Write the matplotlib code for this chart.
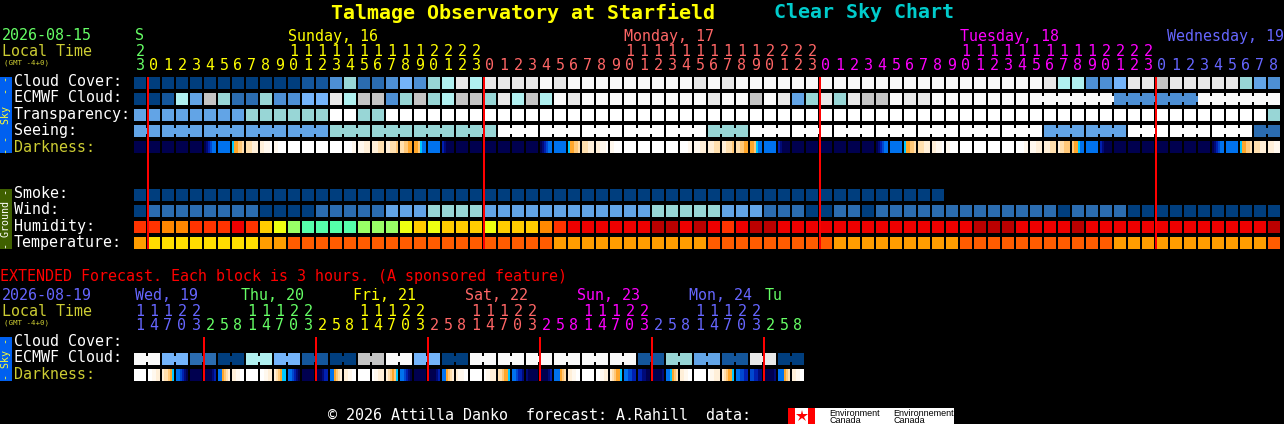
import matplotlib
matplotlib.use("Agg")
import matplotlib.pyplot as plt

OUTPUT_IMAGE = "out.png"

# --- main grid: one letter per hourly block ---
CLOUD = "aaaaaaaaaa aabbdgccdf dghjhjjjjk jkkkkkkkkk jkjkkkkkkk kkkkkkkkkk kkkkkjhhdd fjjijjjjjg ed"
ECMWF = "aabheigccg ddffjhiidg ighiigjhih kjkkkkkkkk kjkkikjegj gjiikjjkkk kkkkkkkkkk ddddddkkkk kk"
TRANSP = "eeeeeeeegg ggggwwggww wwwwwwwwww wwwwwwwwww wwwwwwwwww wwwwwwwwww wwwwwwwwww wwwwwwwwww wg"
SEEING = "eeeeeeeeee eeeegggggg ggggggwwww wwwwwwwwww wgggwwwwww wwwwwwwwww wwwwweeeee ewwwwwwwww cc"
SMOKE = "aaaaaaaaaa aaaaaaaaaa aaaaaaaaaa aaaaaaaaaa aaaaaaaaaa aaaaaaaa"
WIND = "acccccccca aaacccccee eggggeeeee eeeeeeeggg ggeeecccaa ccaccccccc ccccccaccc caaaaaaaaa aa"
HUMIDITY = "CCOOCCCRCY LGTTTTGGGL YLYYYLYYYO CRRRRRRDDR DRCRDDRRRR RRRRRRRRRR DDDRRRRDRR RRRRRRRRRR RD"
TEMPERATURE = "mnnnnnnnnm mooooooooo oooooooooo mmmmmmmmmm mooooooooo mmmmmmmmmo oooooooooo mmmmmmmmmm mo"

# each darkness block is six 2 px strips, left to right
DARKNESS = """
NNNNNN NNNNNN NNNNNN NNNNNN NNNNNN NMBCDD DDDDDD EOOPPQ QQQRRR RRSSSW SSWWWW WWWWWW
WWWWWW WWWWWW WWWWWW WWWWSS SSSRRR RRRQQQ RRQQQP QQPPOO OOPEDD DDDDDD BMNNNN NNNNNN
NNNNNN NNNNNN NNNNNN NNNNNN NNNNNN NMBCDD DDDDDD EOOPPQ QQQRRR RRSSSW SSWWWW WWWWWW
WWWWWW WWWWWW WWWWWW WWWWSS SSSRRR RRRQQQ RRQQQP QQPPOO OOPEDD DDDDDD BMNNNN NNNNNN
NNNNNN NNNNNN NNNNNN NNNNNN NNNNNN NMBCDD DDDDDD EOOPPQ QQQRRR RRSSSW SSWWWW WWWWWW
WWWWWW WWWWWW WWWWWW WWWWSS SSSRRR RRRQQQ RQQPPP POOEDD DDDDDD BMNNNN NNNNNN NNNNNN
NNNNNN NNNNNN NNNNNN NNNNNN NNNNNN NMBCDD DDDDDD EOOPPQ QQQRRR RRRSSS
""".split()

HOUR_TENS = "2          1111111111" + "2222          1111111111" + "2222          1111111111" + "2222         "
HOUR_UNITS = "3" + "012345678901234567890123" * 3 + "012345678"
DAY_SPANS = [(0, 1, "green"), (1, 25, "yellow"), (25, 49, "salmon"), (49, 73, "magenta"), (73, 82, "blue")]
DAY_LABELS = [("S", 135, "green"), ("Sunday, 16", 288, "yellow"), ("Monday, 17", 624, "salmon"),
              ("Tuesday, 18", 960, "magenta"), ("Wednesday, 19", 1167, "blue")]
MIDNIGHT_COLS = [1, 25, 49, 73]

# --- extended grid: 3 hour blocks ---
EXT_ECMWF = "kkffccaahhffbbaaiikkffaa kkkkkkkkkkkkbbggeebbjjaa"
EXT_DARKNESS = """
WWWWWW WWSSRR RQQPOE DDCBMN NNNNNN NNNNMB DDOPQR RRSSWW
WWWWWW WWSSRR RQPOEE DDCBMN NNNNNN NNNMBB DDOPQR RRSSWW
WWWWWW WSSRRR RQPOPE DDCBMN NNNNNN NNNNMB DDOPQR RSSSWW
WWWWWW WSSRRR QQPOOE DDCBBM MNNNNN NNNNMB DDDOPQ RRSSWW
WWWWWW WWSSRR RQPOOE DDCCBB BBMMNN NNNNNM DDEOPQ RRSSWW
WWWWWW WSSRRR RQPOOE DDCCBB CCBBMM NNNNNM DDDOPQ RRSSWW
""".split()
EXT_TENS = "11122   11122   11122   11122   11122   11122   "
EXT_UNITS = "14703258" * 6
EXT_SPANS = [(0, 5, "blue"), (5, 13, "green"), (13, 21, "yellow"), (21, 29, "salmon"),
             (29, 37, "magenta"), (37, 45, "blue"), (45, 48, "green")]
EXT_DAY_LABELS = [("Wed, 19", 135, "blue"), ("Thu, 20", 241, "green"), ("Fri, 21", 353, "yellow"),
                  ("Sat, 22", 465, "salmon"), ("Sun, 23", 577, "magenta"), ("Mon, 24", 689, "blue"),
                  ("Tu", 765, "green")]
EXT_MIDNIGHT_COLS = [5, 13, 21, 29, 37, 45]

# --- colours ---
PALETTE = {
    "a": "#003e7e", "b": "#14569b", "c": "#2b6cb0", "d": "#4d8fd4", "e": "#62a4e6", "f": "#74b4fa",
    "g": "#98d6d6", "h": "#b0f0f0", "i": "#c4c4c4", "j": "#e8e8e8", "k": "#f9f9f9", "w": "#ffffff",
    # humidity
    "D": "#bb0000", "R": "#ee0000", "C": "#ff3300", "O": "#ff8800", "Y": "#ffcc00",
    "L": "#eeff11", "G": "#99ff66", "T": "#55ffaa",
    # temperature
    "n": "#ffdd00", "m": "#ff9d00", "o": "#ff5c00",
}
DARK_COLORS = {
    "N": "#00004f", "M": "#000a78", "B": "#0020b0", "C": "#0048d0", "D": "#0072ee", "E": "#00c8ff",
    "O": "#ffa62a", "P": "#ffc878", "Q": "#ffdfae", "R": "#ffefd8", "S": "#fff8ee", "W": "#ffffff",
}
TEXT_COLORS = {"green": "#66ff66", "yellow": "#ffff00", "salmon": "#ff6666",
               "magenta": "#ff00ff", "blue": "#6666ff"}
OLIVE_TEXT = "#cccc33"
RED = "#ff0000"

X0 = 134
PITCH = 14
CELL = 12
BRIDGE_INSET = 3
TEXT_SHIFT = -0.5
# snapping off: edges already sit on whole pixels
BAR_STYLE = dict(align="edge", linewidth=0, snap=False)

plt.rcParams["font.family"] = ["DejaVu Sans Mono"]
PX = 72 / 100  # one pixel in points at dpi=100


def cell_x(col):
    return X0 + col * PITCH


def put(ax, x, y, s, color="white", px=15, ha="left", **kw):
    ax.text(x, y + TEXT_SHIFT, s, color=color, fontsize=px * PX, ha=ha, va="center_baseline", **kw)


def draw_row(ax, codes, y, joined=None):
    codes = "".join(codes.split())
    for col, code in enumerate(codes):
        color = PALETTE[code]
        ax.bar(cell_x(col), CELL, width=CELL, bottom=y, color=color, **BAR_STYLE)
        if joined is not None and col + 1 < len(codes) and joined(col):
            ax.bar(cell_x(col) + CELL, CELL - 2 * BRIDGE_INSET, width=PITCH - CELL, bottom=y + BRIDGE_INSET,
                   color=color, **BAR_STYLE)


def draw_darkness(ax, blocks, y):
    strip = CELL / 6
    for col, block in enumerate(blocks):
        for i, code in enumerate(block):
            ax.bar(cell_x(col) + i * strip, CELL, width=strip, bottom=y, color=DARK_COLORS[code], **BAR_STYLE)


def draw_hours(ax, tens, units, spans, y_tens, y_units):
    for start, end, name in spans:
        for col in range(start, end):
            x = cell_x(col) + CELL / 2
            if col < len(tens) and tens[col] != " ":
                put(ax, x, y_tens, tens[col], TEXT_COLORS[name], ha="center")
            put(ax, x, y_units, units[col], TEXT_COLORS[name], ha="center")


def draw_midnights(ax, cols, y0, y1):
    for col in cols:
        ax.bar(cell_x(col) - 1, y1 - y0, width=2, bottom=y0, color=RED, zorder=5, **BAR_STYLE)


def side_tab(ax, y0, y1, color, text, text_color, px):
    ax.bar(0, y1 - y0, width=12, bottom=y0, color=color, **BAR_STYLE)
    ax.text(6, (y0 + y1) / 2, text, color=text_color, fontsize=px * PX, rotation=90,
            ha="center", va="center")


def main():
    fig = plt.figure(figsize=(12.84, 4.24), dpi=100, facecolor="black")
    ax = fig.add_axes([0, 0, 1, 1])
    ax.set_xlim(0, 1284)
    ax.set_ylim(424, 0)
    ax.axis("off")

    # title
    put(ax, 331, 11.5, "Talmage Observatory at Starfield", "#ffff00", px=20, fontweight="bold")
    put(ax, 774, 11.5, "Clear Sky Chart", "#00cccc", px=20, fontweight="bold")

    # main header
    put(ax, 2, 35, "2026-08-15", TEXT_COLORS["green"])
    put(ax, 2, 50, "Local Time", OLIVE_TEXT)
    put(ax, 4, 62, "(GMT -4+0)", OLIVE_TEXT, px=7.5)
    for label, x, name in DAY_LABELS:
        put(ax, x, 35, label, TEXT_COLORS[name])
    draw_hours(ax, HOUR_TENS, HOUR_UNITS, DAY_SPANS, 50, 65)

    # sky rows
    row_labels = [("Cloud Cover:", 81), ("ECMWF Cloud:", 97), ("Transparency:", 113), ("Seeing:", 129)]
    for label, y in row_labels:
        put(ax, 14, y, label)
    put(ax, 14, 146, "Darkness:", OLIVE_TEXT)
    side_tab(ax, 77, 153, "#0060f0", "- -  Sky  - -", "#ffff33", 10)

    draw_row(ax, CLOUD, 77)
    draw_row(ax, ECMWF, 93, joined=lambda c: c >= 64)
    draw_row(ax, TRANSP, 109)
    draw_row(ax, SEEING, 125, joined=lambda c: (c - 1) % 3 != 0)
    draw_darkness(ax, DARKNESS, 141)

    # ground rows
    for label, y in [("Smoke:", 193), ("Wind:", 209), ("Humidity:", 225), ("Temperature:", 241)]:
        put(ax, 14, y, label)
    side_tab(ax, 189, 249, "#3f6000", "- Ground -", "white", 10)
    draw_row(ax, SMOKE, 189)
    draw_row(ax, WIND, 205)
    draw_row(ax, HUMIDITY, 221)
    draw_row(ax, TEMPERATURE, 237)
    draw_midnights(ax, MIDNIGHT_COLS, 77, 249)

    # extended forecast
    put(ax, 0, 276, "EXTENDED Forecast. Each block is 3 hours. (A sponsored feature)", RED)
    put(ax, 2, 295, "2026-08-19", TEXT_COLORS["blue"])
    put(ax, 2, 310, "Local Time", OLIVE_TEXT)
    put(ax, 4, 322, "(GMT -4+0)", OLIVE_TEXT, px=7.5)
    for label, x, name in EXT_DAY_LABELS:
        put(ax, x, 295, label, TEXT_COLORS[name])
    draw_hours(ax, EXT_TENS, EXT_UNITS, EXT_SPANS, 310, 325)
    put(ax, 14, 341, "Cloud Cover:")
    put(ax, 14, 357, "ECMWF Cloud:")
    put(ax, 14, 373.5, "Darkness:", OLIVE_TEXT)
    side_tab(ax, 337, 381, "#0060f0", "- Sky -", "#ffff33", 10)
    draw_row(ax, EXT_ECMWF, 353, joined=lambda c: c % 2 == 0)
    draw_darkness(ax, EXT_DARKNESS, 369)
    draw_midnights(ax, EXT_MIDNIGHT_COLS, 337, 381)

    # footer and logo
    put(ax, 328, 415, "\u00a9 2026 Attilla Danko  forecast: A.Rahill  data:")
    ax.bar(788, 16, width=166, bottom=408, color="white", **BAR_STYLE)
    ax.bar([788, 808], 16, width=7, bottom=408, color=RED, **BAR_STYLE)
    ax.plot([801.5], [415.5], marker="*", markersize=9, color=RED, markeredgewidth=0, zorder=4)
    logo_font = ["Liberation Sans", "DejaVu Sans"]
    ax.text(829, 413, "Environment", color="black", fontsize=9 * PX, va="center", family=logo_font)
    ax.text(829, 420.5, "Canada", color="black", fontsize=9 * PX, va="center", family=logo_font)
    ax.text(893, 413, "Environnement", color="black", fontsize=9 * PX, va="center", family=logo_font)
    ax.text(893, 420.5, "Canada", color="black", fontsize=9 * PX, va="center", family=logo_font)

    fig.savefig(OUTPUT_IMAGE, dpi=100, facecolor="black")


if __name__ == "__main__":
    main()
